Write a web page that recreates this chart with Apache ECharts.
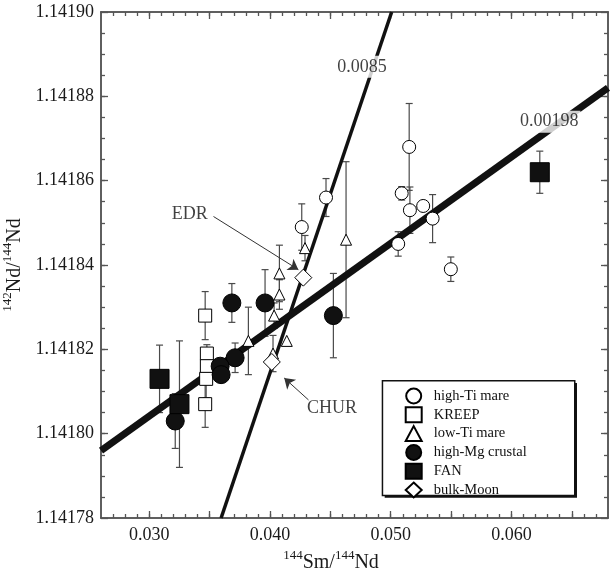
<!DOCTYPE html>
<html><head><meta charset="utf-8">
<script src="https://cdn.jsdelivr.net/npm/echarts@6/dist/echarts.min.js"></script>
<style>html,body{margin:0;padding:0;background:#fff}#c{width:611px;height:570px}</style>
</head><body><div id="c"></div>
<script>
// ---- data ----
const xTickLabels = [0.030, 0.040, 0.050, 0.060];
const yTickLabels = [1.14178, 1.14180, 1.14182, 1.14184, 1.14186, 1.14188, 1.14190];
const xRange = [0.026, 0.068];
const yRange = [1.14178, 1.14190];

// [144Sm/144Nd, 142Nd/144Nd, error]
const highTiMare = [
  [0.04263, 1.141849, 0.0000055],
  [0.04464, 1.141856, 0.0000045],
  [0.05091, 1.141857, 0.0000016],
  [0.05153, 1.141868, 0.0000103],
  [0.05159, 1.141853, 0.0000055],
  [0.05269, 1.141854, 0],
  [0.05347, 1.141851, 0.0000057],
  [0.05062, 1.141845, 0.0000029],
  [0.05498, 1.141839, 0.0000029]
];
const kreep = [
  [0.03463, 1.141828, 0.0000057],
  [0.03477, 1.141819, 0.0000021],
  [0.03477, 1.141816, 0],
  [0.03471, 1.141813, 0.0000045],
  [0.03463, 1.141807, 0.0000055]
];
const lowTiMare = [
  [0.04290, 1.141844, 0.0000030],
  [0.04078, 1.141838, 0.0000067],
  [0.04078, 1.141833, 0.0000035],
  [0.04034, 1.141828, 0.0000030],
  [0.03821, 1.141822, 0.0000080],
  [0.04139, 1.141822, 0],
  [0.04630, 1.141846, 0.0000185],
  [0.04025, 1.141819, 0.0000043]
];
const highMgCrustal = [
  [0.03684, 1.141831, 0.0000046],
  [0.03959, 1.141831, 0.0000079],
  [0.04525, 1.141828, 0.0000100],
  [0.03711, 1.141818, 0.0000035],
  [0.03587, 1.141816, 0],
  [0.03595, 1.141814, 0],
  [0.03215, 1.141803, 0.0000065]
];
const fan = [
  [0.03085, 1.141813, 0.0000080],
  [0.03250, 1.141807, 0.0000150],
  [0.06235, 1.141862, 0.0000050]
];
const bulkMoon = [
  [0.04276, 1.141837, 0],
  [0.04015, 1.141817, 0]
];
const steepLine = [[0.03595, 1.14178], [0.05008, 1.14190]];
const isochronLine = [[0.026, 1.141796], [0.068, 1.141882]];
const lineLabels = [[0.04762, 1.141887, '0.0085'], [0.06313, 1.141874, '0.00198']];
const pointLabels = [[0.03335, 1.141852, 'EDR'], [0.04514, 1.141806, 'CHUR']];
const arrows = [
  [[0.03532, 1.1418515], [0.04235, 1.1418389]],
  [[0.04319, 1.1418080], [0.04118, 1.1418132]]
];

// ---- chart ----
const SERIF = 'Liberation Serif';
const AX = '#555';
const xMinor = [], xMajor = [], yMinor = [];
for (let k = 27; k <= 67; k++) xMinor.push(k / 1000);
for (let k = 6; k <= 13; k++) xMajor.push(k * 5 / 1000);
for (let i = 1; i < 24; i++) yMinor.push((228356 + i) / 200000);

const chart = echarts.init(document.getElementById('c'), null, {renderer: 'canvas'});

function xAx(pos, values, len, labels, extra) {
  return Object.assign({
    type: 'value', position: pos, min: xRange[0], max: xRange[1],
    axisLine: {show: true, lineStyle: {color: AX, width: 1.5}},
    axisTick: {show: true, inside: true, length: len, customValues: values, lineStyle: {color: AX, width: 1.3}},
    axisLabel: labels ? {show: true, customValues: xTickLabels, margin: 8,
      formatter: v => v.toFixed(3), fontFamily: SERIF, fontSize: 18, color: '#1a1a1a'} : {show: false},
    splitLine: {show: false}
  }, extra || {});
}
function yAx(pos, values, len, labels, extra) {
  return Object.assign({
    type: 'value', position: pos, min: yRange[0], max: yRange[1], scale: true,
    axisLine: {show: true, lineStyle: {color: AX, width: 1.5}},
    axisTick: {show: true, inside: true, length: len, customValues: values, lineStyle: {color: AX, width: 1.3}},
    axisLabel: labels ? {show: true, customValues: yTickLabels, margin: 7,
      formatter: v => v.toFixed(5), fontFamily: SERIF, fontSize: 18, color: '#1a1a1a'} : {show: false},
    splitLine: {show: false}
  }, extra || {});
}

const titleRich = {
  sup: {fontFamily: SERIF, fontSize: 13, verticalAlign: 'top', lineHeight: 13, color: '#1a1a1a'},
  b: {fontFamily: SERIF, fontSize: 20, verticalAlign: 'bottom', lineHeight: 24, color: '#1a1a1a'}
};

function scatter(name, data, symbol, size, fill) {
  return {
    type: 'scatter', name: name, data: data.map(d => [d[0], d[1]]),
    symbol: symbol, symbolSize: size, z: 5,
    itemStyle: {color: fill, borderColor: '#000', borderWidth: 1, opacity: 1},
    emphasis: {disabled: true}
  };
}

const errData = [];
[highTiMare, kreep, lowTiMare, highMgCrustal, fan].forEach(g => g.forEach(d => { if (d[2] > 0) errData.push(d); }));

const option = {
  animation: false,
  backgroundColor: '#fff',
  grid: {left: 101, top: 12, width: 507, height: 506, containLabel: false, outerBoundsMode: 'none'},
  xAxis: [
    xAx('bottom', xMajor, 7, true, {
      name: '{sup|144}{b|Sm/}{sup|144}{b|Nd}', nameLocation: 'middle', nameGap: 28,
      nameTextStyle: {rich: titleRich, padding: [0, 47, 0, 0]}
    }),
    xAx('bottom', xMinor, 4, false),
    xAx('top', xMajor, 7, false),
    xAx('top', xMinor, 4, false)
  ],
  yAxis: [
    yAx('left', yTickLabels, 7, true, {
      name: '{sup|142}{b|Nd/}{sup|144}{b|Nd}', nameLocation: 'middle', nameGap: 70, nameRotate: 90,
      nameTextStyle: {rich: titleRich}
    }),
    yAx('left', yMinor, 4, false),
    yAx('right', yTickLabels, 7, false),
    yAx('right', yMinor, 4, false)
  ],
  legend: {
    orient: 'vertical', left: 404.7, top: 387.5, itemWidth: 16, itemHeight: 15, itemGap: 1.8,
    padding: 0, selectedMode: false, z: 10,
    textStyle: {fontFamily: SERIF, fontSize: 14.5, color: '#111', lineHeight: 15, padding: [0, 0, 0, 7]},
    data: ['high-Ti mare', 'KREEP', 'low-Ti mare', 'high-Mg crustal', 'FAN', 'bulk-Moon']
  },
  graphic: [
    {type: 'rect', left: 384.7, top: 383, shape: {width: 192.3, height: 114.7}, style: {fill: '#111'}, z: 8},
    {type: 'rect', left: 381.7, top: 380, shape: {width: 192.3, height: 114.7}, style: {fill: '#fff', stroke: '#111', lineWidth: 1.5}, z: 9}
  ],
  series: [
    {
      type: 'custom', name: 'errors', data: errData, z: 1, silent: true,
      encode: {x: 0, y: 1},
      renderItem: function (params, api) {
        const x = api.value(0), y = api.value(1), e = api.value(2);
        const t = api.coord([x, y + e]), b = api.coord([x, y - e]);
        const hw = 3.5;
        const st = {stroke: '#4a4a4a', lineWidth: 1.2};
        return {type: 'group', children: [
          {type: 'line', shape: {x1: t[0], y1: t[1], x2: b[0], y2: b[1]}, style: st},
          {type: 'line', shape: {x1: t[0] - hw, y1: t[1], x2: t[0] + hw, y2: t[1]}, style: st},
          {type: 'line', shape: {x1: b[0] - hw, y1: b[1], x2: b[0] + hw, y2: b[1]}, style: st}
        ]};
      }
    },
    {type: 'line', name: 'slope 0.0085', data: steepLine, showSymbol: false, symbol: 'none', z: 3, silent: true,
      lineStyle: {color: '#111', width: 3.5}},
    {type: 'line', name: 'slope 0.00198', data: isochronLine, showSymbol: false, symbol: 'none', z: 3, silent: true,
      lineStyle: {color: '#111', width: 7}},
    {type: 'lines', name: 'arrows', coordinateSystem: 'cartesian2d', z: 4, silent: true,
      symbol: ['none', 'arrow'], symbolSize: 10,
      lineStyle: {color: '#333', width: 1, opacity: 1},
      data: arrows.map(a => ({coords: a}))},
    scatter('high-Ti mare', highTiMare, 'circle', 13, '#fff'),
    scatter('KREEP', kreep, 'rect', 13, '#fff'),
    scatter('low-Ti mare', lowTiMare, 'triangle', 11, '#fff'),
    scatter('high-Mg crustal', highMgCrustal, 'circle', 18, '#111'),
    scatter('FAN', fan, 'rect', 19, '#111'),
    scatter('bulk-Moon', bulkMoon, 'diamond', 17, '#fff'),
    {type: 'scatter', name: 'line labels', z: 6, silent: true, symbolSize: 0.1,
      itemStyle: {color: 'transparent'},
      data: lineLabels.map(d => ({value: [d[0], d[1]], name: d[2]})),
      label: {show: true, position: 'inside', formatter: '{b}', fontFamily: SERIF, fontSize: 18, color: '#111',
        backgroundColor: '#fff', padding: [2, 2]}},
    {type: 'scatter', name: 'point labels', z: 6, silent: true, symbolSize: 0.1,
      itemStyle: {color: 'transparent'},
      data: pointLabels.map(d => ({value: [d[0], d[1]], name: d[2]})),
      label: {show: true, position: 'inside', formatter: '{b}', fontFamily: SERIF, fontSize: 18, color: '#111'}}
  ]
};
chart.setOption(option);
</script>
</body></html>
